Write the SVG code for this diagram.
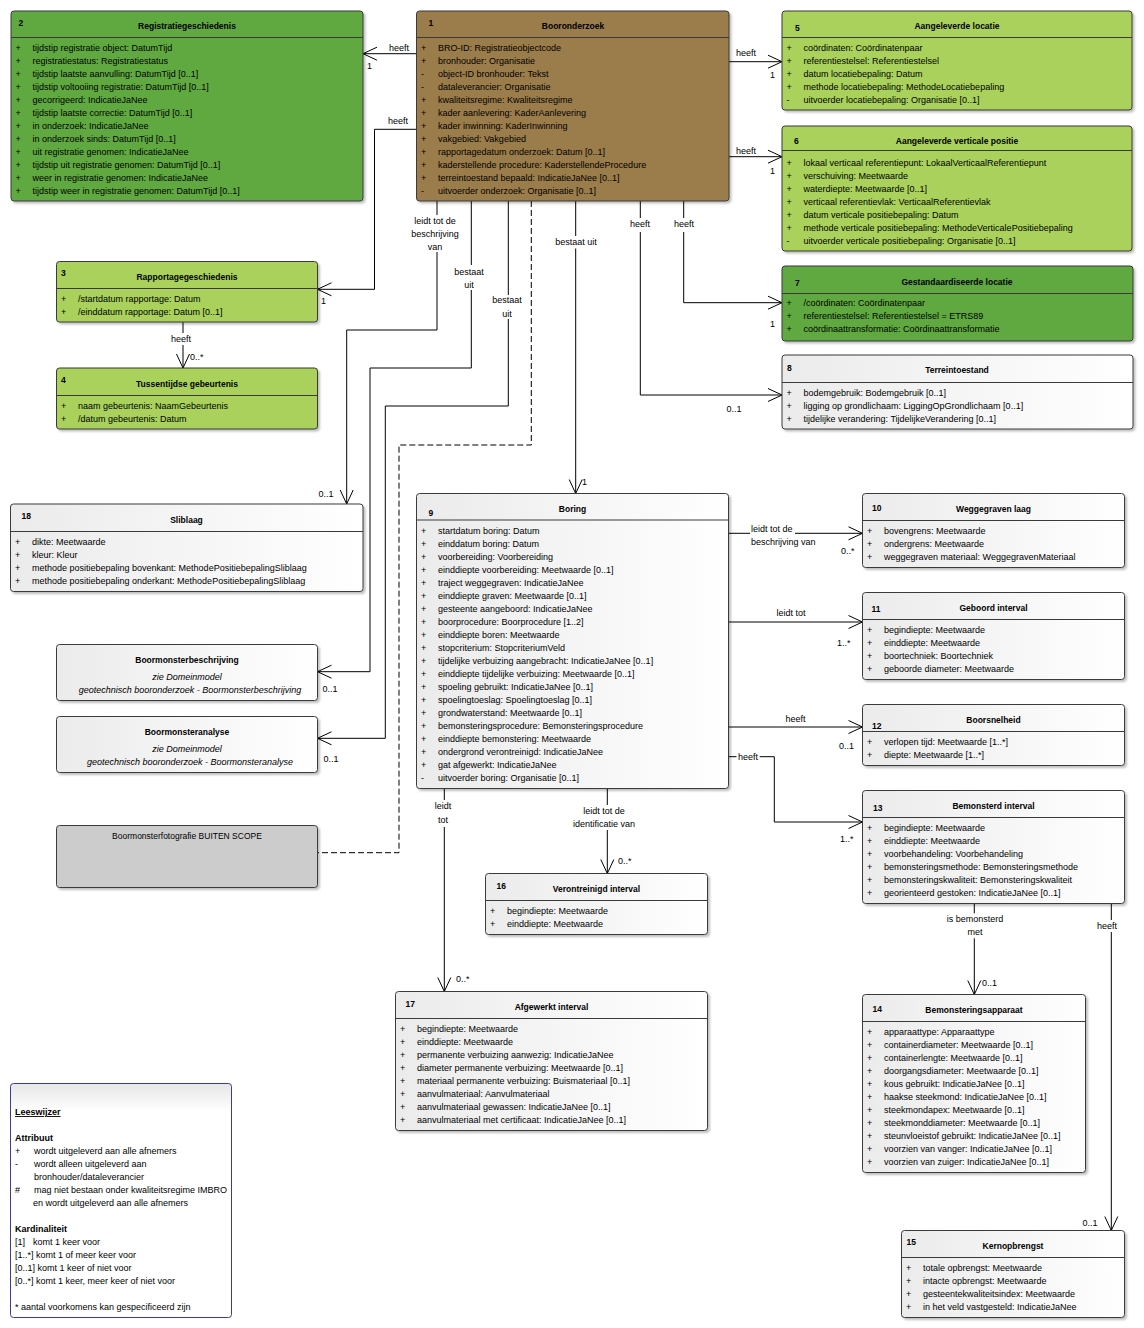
<svg xmlns="http://www.w3.org/2000/svg" width="1144" height="1328" viewBox="0 0 1144 1328">
<defs>
<style>
.bx{stroke:#3a3a3a;stroke-width:1;filter:url(#sh)}
.sep{stroke:#3a3a3a;stroke-width:1}
text{font-family:"Liberation Sans",Arial,sans-serif;font-size:9px;fill:#000}
.ti{font-weight:bold;font-size:8.5px;text-anchor:middle}
.nr{font-weight:bold;font-size:8.5px}
.it{font-style:italic;text-anchor:middle}
.c{text-anchor:middle}
.ln{fill:none;stroke:#000;stroke-width:1}
.ar{marker-end:url(#ar)}
.dash{stroke-dasharray:6,3}
.dg{fill:#61a83f}
.lg{fill:#a9d15b}
.br{fill:#9b7b4c}
.wh{fill:url(#wg)}
.gr{fill:#cccccc}
</style>
<linearGradient id="wg" x1="0" y1="0" x2="1" y2="0"><stop offset="0" stop-color="#ebebeb"/><stop offset="1" stop-color="#ffffff"/></linearGradient>
<linearGradient id="lgd" x1="0" y1="0" x2="0" y2="1"><stop offset="0" stop-color="#e6e6e6"/><stop offset="0.12" stop-color="#ffffff"/><stop offset="1" stop-color="#ffffff"/></linearGradient>
<filter id="sh" x="-5%" y="-5%" width="110%" height="115%"><feDropShadow dx="2" dy="2" stdDeviation="1" flood-color="#000" flood-opacity="0.25"/></filter>
<marker id="ar" markerUnits="userSpaceOnUse" markerWidth="18" markerHeight="18" viewBox="-16 -9 18 18" refX="0" refY="0" orient="auto"><path d="M-14,-6.5 L0,0 L-14,6.5" fill="none" stroke="#000" stroke-width="1"/></marker>
</defs>
<rect width="1144" height="1328" fill="#ffffff"/>

<g id="connectors">
<path class="ln ar" d="M416.5,53.7 H363"/>
<path class="ln ar" d="M416.5,129.3 H374.5 V289.3 H317.5"/>
<path class="ln ar" d="M729,61.7 H782"/>
<path class="ln ar" d="M729,156.7 H782"/>
<path class="ln ar" d="M683.7,201 V218 M683.7,232 V302.7 H782"/>
<path class="ln ar" d="M640.3,201 V218 M640.3,232 V395 H782"/>
<path class="ln ar" d="M437,201 V215 M437,252 V330 H346.7 V504"/>
<path class="ln ar" d="M471.3,201 V265 M471.3,290 V368 H370 V671.7 H317.5"/>
<path class="ln ar" d="M508.3,201 V295 M508.3,319 V406 H385.3 V738.3 H317.5"/>
<path class="ln dash" d="M531.3,201 V445 H399 V852.7 H317.5"/>
<path class="ln ar" d="M575.7,201 V236 M575.7,248.5 V493.5"/>
<path class="ln ar" d="M183,322 V333 M183,345 V368"/>
<path class="ln ar" d="M728.5,533.3 H750 M795,533.3 H862.5"/>
<path class="ln ar" d="M728.5,622 H862.5"/>
<path class="ln ar" d="M728.5,727 H862.5"/>
<path class="ln ar" d="M728.5,756.7 H736.5 M759.7,756.7 H774.3 V822 H862.5"/>
<path class="ln ar" d="M607.3,788.5 V805 M607.3,830 V873.5"/>
<path class="ln ar" d="M444.3,788.5 V800 M444.3,827 V991.5"/>
<path class="ln ar" d="M974.3,903.5 V913.3 M974.3,938.3 V994.5"/>
<path class="ln ar" d="M1111.3,903.5 V920 M1111.3,932 V1230.5"/>
<text class="c" x="399" y="51">heeft</text>
<text x="367" y="69">1</text>
<text class="c" x="398" y="124">heeft</text>
<text x="321" y="304">1</text>
<text class="c" x="746" y="56">heeft</text>
<text x="770" y="78">1</text>
<text class="c" x="746" y="154">heeft</text>
<text x="770" y="174">1</text>
<text class="c" x="684" y="227">heeft</text>
<text x="770" y="327">1</text>
<text class="c" x="640" y="227">heeft</text>
<text class="c" x="734" y="412">0..1</text>
<text class="c" x="435" y="224">leidt tot de</text>
<text class="c" x="435" y="237">beschrijving</text>
<text class="c" x="435" y="250">van</text>
<text class="c" x="469" y="275">bestaat</text>
<text class="c" x="469" y="288">uit</text>
<text class="c" x="507" y="303">bestaat</text>
<text class="c" x="507" y="316.5">uit</text>
<text class="c" x="576" y="244.7">bestaat uit</text>
<text x="582" y="485">1</text>
<text class="c" x="326" y="497">0..1</text>
<text class="c" x="330" y="692">0..1</text>
<text class="c" x="331" y="762">0..1</text>
<text class="c" x="181" y="342">heeft</text>
<text x="190" y="360">0..*</text>
<text x="751" y="531.7">leidt tot de</text>
<text x="751" y="544.7">beschrijving van</text>
<text x="841" y="554">0..*</text>
<text class="c" x="791" y="615.7">leidt tot</text>
<text x="837" y="645.7">1..*</text>
<text class="c" x="795.5" y="721.7">heeft</text>
<text x="839" y="749">0..1</text>
<text x="738" y="760">heeft</text>
<text x="840" y="842.3">1..*</text>
<text class="c" x="443" y="809.3">leidt</text>
<text class="c" x="443" y="822.7">tot</text>
<text x="456" y="982">0..*</text>
<text class="c" x="604" y="813.7">leidt tot de</text>
<text class="c" x="604" y="826.7">identificatie van</text>
<text x="618" y="864">0..*</text>
<text class="c" x="975" y="921.7">is bemonsterd</text>
<text class="c" x="975" y="935">met</text>
<text x="982" y="986">0..1</text>
<text class="c" x="1107" y="928.7">heeft</text>
<text class="c" x="1090" y="1225.7">0..1</text>
</g>

<g id="n2">
<rect class="bx dg" x="11" y="11" width="352" height="190" rx="3"/>
<line class="sep" x1="11" y1="37.5" x2="363" y2="37.5"/>
<text class="nr" x="18.5" y="25.7">2</text>
<text class="ti" x="187" y="29">Registratiegeschiedenis</text>
<text y="51"><tspan x="15.5">+</tspan><tspan x="32.5">tijdstip registratie object: DatumTijd</tspan></text>
<text y="64"><tspan x="15.5">+</tspan><tspan x="32.5">registratiestatus: Registratiestatus</tspan></text>
<text y="77"><tspan x="15.5">+</tspan><tspan x="32.5">tijdstip laatste aanvulling: DatumTijd [0..1]</tspan></text>
<text y="90"><tspan x="15.5">+</tspan><tspan x="32.5">tijdstip voltooiing registratie: DatumTijd [0..1]</tspan></text>
<text y="103"><tspan x="15.5">+</tspan><tspan x="32.5">gecorrigeerd: IndicatieJaNee</tspan></text>
<text y="116"><tspan x="15.5">+</tspan><tspan x="32.5">tijdstip laatste correctie: DatumTijd [0..1]</tspan></text>
<text y="129"><tspan x="15.5">+</tspan><tspan x="32.5">in onderzoek: IndicatieJaNee</tspan></text>
<text y="142"><tspan x="15.5">+</tspan><tspan x="32.5">in onderzoek sinds: DatumTijd [0..1]</tspan></text>
<text y="155"><tspan x="15.5">+</tspan><tspan x="32.5">uit registratie genomen: IndicatieJaNee</tspan></text>
<text y="168"><tspan x="15.5">+</tspan><tspan x="32.5">tijdstip uit registratie genomen: DatumTijd [0..1]</tspan></text>
<text y="181"><tspan x="15.5">+</tspan><tspan x="32.5">weer in registratie genomen: IndicatieJaNee</tspan></text>
<text y="194"><tspan x="15.5">+</tspan><tspan x="32.5">tijdstip weer in registratie genomen: DatumTijd [0..1]</tspan></text>
</g>

<g id="n1">
<rect class="bx br" x="416.5" y="11" width="312.5" height="190" rx="3"/>
<line class="sep" x1="416.5" y1="37.5" x2="729" y2="37.5"/>
<text class="nr" x="428.5" y="25.7">1</text>
<text class="ti" x="573" y="29">Booronderzoek</text>
<text y="51"><tspan x="421">+</tspan><tspan x="438">BRO-ID: Registratieobjectcode</tspan></text>
<text y="64"><tspan x="421">+</tspan><tspan x="438">bronhouder: Organisatie</tspan></text>
<text y="77"><tspan x="421">-</tspan><tspan x="438">object-ID bronhouder: Tekst</tspan></text>
<text y="90"><tspan x="421">-</tspan><tspan x="438">dataleverancier: Organisatie</tspan></text>
<text y="103"><tspan x="421">+</tspan><tspan x="438">kwaliteitsregime: Kwaliteitsregime</tspan></text>
<text y="116"><tspan x="421">+</tspan><tspan x="438">kader aanlevering: KaderAanlevering</tspan></text>
<text y="129"><tspan x="421">+</tspan><tspan x="438">kader inwinning: KaderInwinning</tspan></text>
<text y="142"><tspan x="421">+</tspan><tspan x="438">vakgebied: Vakgebied</tspan></text>
<text y="155"><tspan x="421">+</tspan><tspan x="438">rapportagedatum onderzoek: Datum [0..1]</tspan></text>
<text y="168"><tspan x="421">+</tspan><tspan x="438">kaderstellende procedure: KaderstellendeProcedure</tspan></text>
<text y="181"><tspan x="421">+</tspan><tspan x="438">terreintoestand bepaald: IndicatieJaNee [0..1]</tspan></text>
<text y="194"><tspan x="421">-</tspan><tspan x="438">uitvoerder onderzoek: Organisatie [0..1]</tspan></text>
</g>

<g id="n5">
<rect class="bx lg" x="782" y="11" width="350" height="99" rx="3"/>
<line class="sep" x1="782" y1="37.5" x2="1132" y2="37.5"/>
<text class="nr" x="795" y="30.5">5</text>
<text class="ti" x="957" y="29">Aangeleverde locatie</text>
<text y="51"><tspan x="786.5">+</tspan><tspan x="803.5">coördinaten: Coördinatenpaar</tspan></text>
<text y="64"><tspan x="786.5">+</tspan><tspan x="803.5">referentiestelsel: Referentiestelsel</tspan></text>
<text y="77"><tspan x="786.5">+</tspan><tspan x="803.5">datum locatiebepaling: Datum</tspan></text>
<text y="90"><tspan x="786.5">+</tspan><tspan x="803.5">methode locatiebepaling: MethodeLocatiebepaling</tspan></text>
<text y="103"><tspan x="786.5">-</tspan><tspan x="803.5">uitvoerder locatiebepaling: Organisatie [0..1]</tspan></text>
</g>

<g id="n6">
<rect class="bx lg" x="782" y="126" width="350" height="125" rx="3"/>
<line class="sep" x1="782" y1="150.5" x2="1132" y2="150.5"/>
<text class="nr" x="794" y="144">6</text>
<text class="ti" x="957" y="144">Aangeleverde verticale positie</text>
<text y="166"><tspan x="786.5">+</tspan><tspan x="803.5">lokaal verticaal referentiepunt: LokaalVerticaalReferentiepunt</tspan></text>
<text y="179"><tspan x="786.5">+</tspan><tspan x="803.5">verschuiving: Meetwaarde</tspan></text>
<text y="192"><tspan x="786.5">+</tspan><tspan x="803.5">waterdiepte: Meetwaarde [0..1]</tspan></text>
<text y="205"><tspan x="786.5">+</tspan><tspan x="803.5">verticaal referentievlak: VerticaalReferentievlak</tspan></text>
<text y="218"><tspan x="786.5">+</tspan><tspan x="803.5">datum verticale positiebepaling: Datum</tspan></text>
<text y="231"><tspan x="786.5">+</tspan><tspan x="803.5">methode verticale positiebepaling: MethodeVerticalePositiebepaling</tspan></text>
<text y="244"><tspan x="786.5">-</tspan><tspan x="803.5">uitvoerder verticale positiebepaling: Organisatie [0..1]</tspan></text>
</g>

<g id="n7">
<rect class="bx dg" x="782" y="266" width="351" height="75" rx="3"/>
<line class="sep" x1="782" y1="293.5" x2="1133" y2="293.5"/>
<text class="nr" x="795" y="286">7</text>
<text class="ti" x="957" y="285">Gestandaardiseerde locatie</text>
<text y="306"><tspan x="786.5">+</tspan><tspan x="803.5">/coördinaten: Coördinatenpaar</tspan></text>
<text y="319"><tspan x="786.5">+</tspan><tspan x="803.5">referentiestelsel: Referentiestelsel = ETRS89</tspan></text>
<text y="332"><tspan x="786.5">+</tspan><tspan x="803.5">coördinaattransformatie: Coördinaattransformatie</tspan></text>
</g>

<g id="n8">
<rect class="bx wh" x="782" y="355" width="351" height="74" rx="3"/>
<line class="sep" x1="782" y1="382.5" x2="1133" y2="382.5"/>
<text class="nr" x="787" y="371">8</text>
<text class="ti" x="957" y="373">Terreintoestand</text>
<text y="396"><tspan x="786.5">+</tspan><tspan x="803.5">bodemgebruik: Bodemgebruik [0..1]</tspan></text>
<text y="409"><tspan x="786.5">+</tspan><tspan x="803.5">ligging op grondlichaam: LiggingOpGrondlichaam [0..1]</tspan></text>
<text y="422"><tspan x="786.5">+</tspan><tspan x="803.5">tijdelijke verandering: TijdelijkeVerandering [0..1]</tspan></text>
</g>

<g id="n3">
<rect class="bx lg" x="56.5" y="261.5" width="261" height="60.5" rx="3"/>
<line class="sep" x1="56.5" y1="288.5" x2="317.5" y2="288.5"/>
<text class="nr" x="61" y="275.7">3</text>
<text class="ti" x="187" y="279.7">Rapportagegeschiedenis</text>
<text y="302"><tspan x="61">+</tspan><tspan x="78">/startdatum rapportage: Datum</tspan></text>
<text y="315"><tspan x="61">+</tspan><tspan x="78">/einddatum rapportage: Datum [0..1]</tspan></text>
</g>

<g id="n4">
<rect class="bx lg" x="56.5" y="368" width="261" height="61" rx="3"/>
<line class="sep" x1="56.5" y1="395.5" x2="317.5" y2="395.5"/>
<text class="nr" x="61" y="383">4</text>
<text class="ti" x="187" y="387">Tussentijdse gebeurtenis</text>
<text y="409"><tspan x="61">+</tspan><tspan x="78">naam gebeurtenis: NaamGebeurtenis</tspan></text>
<text y="422"><tspan x="61">+</tspan><tspan x="78">/datum gebeurtenis: Datum</tspan></text>
</g>

<g id="n18">
<rect class="bx wh" x="10.5" y="504" width="352.5" height="87.5" rx="3"/>
<line class="sep" x1="10.5" y1="531.5" x2="363" y2="531.5"/>
<text class="nr" x="21.5" y="519">18</text>
<text class="ti" x="186.5" y="523">Sliblaag</text>
<text y="545"><tspan x="15">+</tspan><tspan x="32">dikte: Meetwaarde</tspan></text>
<text y="558"><tspan x="15">+</tspan><tspan x="32">kleur: Kleur</tspan></text>
<text y="571"><tspan x="15">+</tspan><tspan x="32">methode positiebepaling bovenkant: MethodePositiebepalingSliblaag</tspan></text>
<text y="584"><tspan x="15">+</tspan><tspan x="32">methode positiebepaling onderkant: MethodePositiebepalingSliblaag</tspan></text>
</g>

<g id="n9">
<rect class="bx wh" x="416.5" y="493.5" width="312" height="295" rx="3"/>
<line class="sep" x1="416.5" y1="520" x2="728.5" y2="520"/>
<text class="nr" x="428.5" y="515.5">9</text>
<text class="ti" x="572.5" y="512">Boring</text>
<text y="534"><tspan x="421">+</tspan><tspan x="438">startdatum boring: Datum</tspan></text>
<text y="547"><tspan x="421">+</tspan><tspan x="438">einddatum boring: Datum</tspan></text>
<text y="560"><tspan x="421">+</tspan><tspan x="438">voorbereiding: Voorbereiding</tspan></text>
<text y="573"><tspan x="421">+</tspan><tspan x="438">einddiepte voorbereiding: Meetwaarde [0..1]</tspan></text>
<text y="586"><tspan x="421">+</tspan><tspan x="438">traject weggegraven: IndicatieJaNee</tspan></text>
<text y="599"><tspan x="421">+</tspan><tspan x="438">einddiepte graven: Meetwaarde [0..1]</tspan></text>
<text y="612"><tspan x="421">+</tspan><tspan x="438">gesteente aangeboord: IndicatieJaNee</tspan></text>
<text y="625"><tspan x="421">+</tspan><tspan x="438">boorprocedure: Boorprocedure [1..2]</tspan></text>
<text y="638"><tspan x="421">+</tspan><tspan x="438">einddiepte boren: Meetwaarde</tspan></text>
<text y="651"><tspan x="421">+</tspan><tspan x="438">stopcriterium: StopcriteriumVeld</tspan></text>
<text y="664"><tspan x="421">+</tspan><tspan x="438">tijdelijke verbuizing aangebracht: IndicatieJaNee [0..1]</tspan></text>
<text y="677"><tspan x="421">+</tspan><tspan x="438">einddiepte tijdelijke verbuizing: Meetwaarde [0..1]</tspan></text>
<text y="690"><tspan x="421">+</tspan><tspan x="438">spoeling gebruikt: IndicatieJaNee [0..1]</tspan></text>
<text y="703"><tspan x="421">+</tspan><tspan x="438">spoelingtoeslag: Spoelingtoeslag [0..1]</tspan></text>
<text y="716"><tspan x="421">+</tspan><tspan x="438">grondwaterstand: Meetwaarde [0..1]</tspan></text>
<text y="729"><tspan x="421">+</tspan><tspan x="438">bemonsteringsprocedure: Bemonsteringsprocedure</tspan></text>
<text y="742"><tspan x="421">+</tspan><tspan x="438">einddiepte bemonstering: Meetwaarde</tspan></text>
<text y="755"><tspan x="421">+</tspan><tspan x="438">ondergrond verontreinigd: IndicatieJaNee</tspan></text>
<text y="768"><tspan x="421">+</tspan><tspan x="438">gat afgewerkt: IndicatieJaNee</tspan></text>
<text y="781"><tspan x="421">-</tspan><tspan x="438">uitvoerder boring: Organisatie [0..1]</tspan></text>
</g>

<g id="n10">
<rect class="bx wh" x="862.5" y="493.5" width="262" height="74" rx="3"/>
<line class="sep" x1="862.5" y1="520.5" x2="1124.5" y2="520.5"/>
<text class="nr" x="872" y="511">10</text>
<text class="ti" x="993.5" y="512">Weggegraven laag</text>
<text y="534"><tspan x="867">+</tspan><tspan x="884">bovengrens: Meetwaarde</tspan></text>
<text y="547"><tspan x="867">+</tspan><tspan x="884">ondergrens: Meetwaarde</tspan></text>
<text y="560"><tspan x="867">+</tspan><tspan x="884">weggegraven materiaal: WeggegravenMateriaal</tspan></text>
</g>

<g id="n11">
<rect class="bx wh" x="862.5" y="592.5" width="262" height="87" rx="3"/>
<line class="sep" x1="862.5" y1="619.5" x2="1124.5" y2="619.5"/>
<text class="nr" x="871.5" y="612">11</text>
<text class="ti" x="993.5" y="611">Geboord interval</text>
<text y="633"><tspan x="867">+</tspan><tspan x="884">begindiepte: Meetwaarde</tspan></text>
<text y="646"><tspan x="867">+</tspan><tspan x="884">einddiepte: Meetwaarde</tspan></text>
<text y="659"><tspan x="867">+</tspan><tspan x="884">boortechniek: Boortechniek</tspan></text>
<text y="672"><tspan x="867">+</tspan><tspan x="884">geboorde diameter: Meetwaarde</tspan></text>
</g>

<g id="n12">
<rect class="bx wh" x="862.5" y="704.5" width="262" height="61" rx="3"/>
<line class="sep" x1="862.5" y1="731.5" x2="1124.5" y2="731.5"/>
<text class="nr" x="872" y="729">12</text>
<text class="ti" x="993.5" y="722.7">Boorsnelheid</text>
<text y="745"><tspan x="867">+</tspan><tspan x="884">verlopen tijd: Meetwaarde [1..*]</tspan></text>
<text y="758"><tspan x="867">+</tspan><tspan x="884">diepte: Meetwaarde [1..*]</tspan></text>
</g>

<g id="n13">
<rect class="bx wh" x="862.5" y="790.5" width="262" height="113" rx="3"/>
<line class="sep" x1="862.5" y1="817.5" x2="1124.5" y2="817.5"/>
<text class="nr" x="873" y="811">13</text>
<text class="ti" x="993.5" y="808.7">Bemonsterd interval</text>
<text y="831"><tspan x="867">+</tspan><tspan x="884">begindiepte: Meetwaarde</tspan></text>
<text y="844"><tspan x="867">+</tspan><tspan x="884">einddiepte: Meetwaarde</tspan></text>
<text y="857"><tspan x="867">+</tspan><tspan x="884">voorbehandeling: Voorbehandeling</tspan></text>
<text y="870"><tspan x="867">+</tspan><tspan x="884">bemonsteringsmethode: Bemonsteringsmethode</tspan></text>
<text y="883"><tspan x="867">+</tspan><tspan x="884">bemonsteringskwaliteit: Bemonsteringskwaliteit</tspan></text>
<text y="896"><tspan x="867">+</tspan><tspan x="884">georienteerd gestoken: IndicatieJaNee [0..1]</tspan></text>
</g>

<g id="n14">
<rect class="bx wh" x="862.5" y="994.5" width="223" height="178" rx="3"/>
<line class="sep" x1="862.5" y1="1021.5" x2="1085.5" y2="1021.5"/>
<text class="nr" x="872.5" y="1011.5">14</text>
<text class="ti" x="974" y="1013">Bemonsteringsapparaat</text>
<text y="1035"><tspan x="867">+</tspan><tspan x="884">apparaattype: Apparaattype</tspan></text>
<text y="1048"><tspan x="867">+</tspan><tspan x="884">containerdiameter: Meetwaarde [0..1]</tspan></text>
<text y="1061"><tspan x="867">+</tspan><tspan x="884">containerlengte: Meetwaarde [0..1]</tspan></text>
<text y="1074"><tspan x="867">+</tspan><tspan x="884">doorgangsdiameter: Meetwaarde [0..1]</tspan></text>
<text y="1087"><tspan x="867">+</tspan><tspan x="884">kous gebruikt: IndicatieJaNee [0..1]</tspan></text>
<text y="1100"><tspan x="867">+</tspan><tspan x="884">haakse steekmond: IndicatieJaNee [0..1]</tspan></text>
<text y="1113"><tspan x="867">+</tspan><tspan x="884">steekmondapex: Meetwaarde [0..1]</tspan></text>
<text y="1126"><tspan x="867">+</tspan><tspan x="884">steekmonddiameter: Meetwaarde [0..1]</tspan></text>
<text y="1139"><tspan x="867">+</tspan><tspan x="884">steunvloeistof gebruikt: IndicatieJaNee [0..1]</tspan></text>
<text y="1152"><tspan x="867">+</tspan><tspan x="884">voorzien van vanger: IndicatieJaNee [0..1]</tspan></text>
<text y="1165"><tspan x="867">+</tspan><tspan x="884">voorzien van zuiger: IndicatieJaNee [0..1]</tspan></text>
</g>

<g id="n15">
<rect class="bx wh" x="901.5" y="1230.5" width="223" height="87" rx="3"/>
<line class="sep" x1="901.5" y1="1257.5" x2="1124.5" y2="1257.5"/>
<text class="nr" x="906.5" y="1245">15</text>
<text class="ti" x="1013" y="1249">Kernopbrengst</text>
<text y="1271"><tspan x="906">+</tspan><tspan x="923">totale opbrengst: Meetwaarde</tspan></text>
<text y="1284"><tspan x="906">+</tspan><tspan x="923">intacte opbrengst: Meetwaarde</tspan></text>
<text y="1297"><tspan x="906">+</tspan><tspan x="923">gesteentekwaliteitsindex: Meetwaarde</tspan></text>
<text y="1310"><tspan x="906">+</tspan><tspan x="923">in het veld vastgesteld: IndicatieJaNee</tspan></text>
</g>

<g id="n16">
<rect class="bx wh" x="485.5" y="873.5" width="222" height="61" rx="3"/>
<line class="sep" x1="485.5" y1="900.5" x2="707.5" y2="900.5"/>
<text class="nr" x="496.5" y="889">16</text>
<text class="ti" x="596.5" y="891.7">Verontreinigd interval</text>
<text y="914"><tspan x="490">+</tspan><tspan x="507">begindiepte: Meetwaarde</tspan></text>
<text y="927"><tspan x="490">+</tspan><tspan x="507">einddiepte: Meetwaarde</tspan></text>
</g>

<g id="n17">
<rect class="bx wh" x="395.5" y="991.5" width="312" height="139" rx="3"/>
<line class="sep" x1="395.5" y1="1018.5" x2="707.5" y2="1018.5"/>
<text class="nr" x="405.5" y="1007">17</text>
<text class="ti" x="551.5" y="1009.7">Afgewerkt interval</text>
<text y="1032"><tspan x="400">+</tspan><tspan x="417">begindiepte: Meetwaarde</tspan></text>
<text y="1045"><tspan x="400">+</tspan><tspan x="417">einddiepte: Meetwaarde</tspan></text>
<text y="1058"><tspan x="400">+</tspan><tspan x="417">permanente verbuizing aanwezig: IndicatieJaNee</tspan></text>
<text y="1071"><tspan x="400">+</tspan><tspan x="417">diameter permanente verbuizing: Meetwaarde [0..1]</tspan></text>
<text y="1084"><tspan x="400">+</tspan><tspan x="417">materiaal permanente verbuizing: Buismateriaal [0..1]</tspan></text>
<text y="1097"><tspan x="400">+</tspan><tspan x="417">aanvulmateriaal: Aanvulmateriaal</tspan></text>
<text y="1110"><tspan x="400">+</tspan><tspan x="417">aanvulmateriaal gewassen: IndicatieJaNee [0..1]</tspan></text>
<text y="1123"><tspan x="400">+</tspan><tspan x="417">aanvulmateriaal met certificaat: IndicatieJaNee [0..1]</tspan></text>
</g>

<g id="nBoormonsterbeschrijving">
<rect class="bx wh" x="56.5" y="644.5" width="261" height="56" rx="3"/>
<text class="ti" x="187" y="663">Boormonsterbeschrijving</text>
<text class="it" x="187" y="680">zie Domeinmodel</text>
<text class="it" x="190" y="693">geotechnisch booronderzoek - Boormonsterbeschrijving</text>
</g>

<g id="nBoormonsteranalyse">
<rect class="bx wh" x="56.5" y="716.5" width="261" height="56" rx="3"/>
<text class="ti" x="187" y="735">Boormonsteranalyse</text>
<text class="it" x="187" y="752">zie Domeinmodel</text>
<text class="it" x="190" y="765">geotechnisch booronderzoek - Boormonsteranalyse</text>
</g>

<g id="nBoormonsterfotografie">
<rect class="bx gr" x="56.5" y="825.5" width="261" height="62" rx="3"/>
<text class="c" x="187" y="839" style="font-size:8.5px">Boormonsterfotografie BUITEN SCOPE</text>
</g>

<g id="legend">
<rect x="10.5" y="1083.5" width="221" height="234" rx="3" fill="url(#lgd)" stroke="#3b3b9a" stroke-width="1"/>
<text x="15" y="1115" style="font-weight:bold;text-decoration:underline">Leeswijzer</text>
<text x="15" y="1141" style="font-weight:bold">Attribuut</text>
<text y="1154"><tspan x="15">+</tspan><tspan x="34">wordt uitgeleverd aan alle afnemers</tspan></text>
<text y="1167"><tspan x="15">-</tspan><tspan x="34">wordt alleen uitgeleverd aan</tspan></text>
<text x="34" y="1180">bronhouder/dataleverancier</text>
<text y="1193"><tspan x="15">#</tspan><tspan x="34">mag niet bestaan onder kwaliteitsregime IMBRO</tspan></text>
<text x="33" y="1206">en wordt uitgeleverd aan alle afnemers</text>
<text x="15" y="1232" style="font-weight:bold">Kardinaliteit</text>
<text y="1245"><tspan x="15">[1]</tspan><tspan x="33">komt 1 keer voor</tspan></text>
<text x="15" y="1258">[1..*] komt 1 of meer keer voor</text>
<text x="15" y="1271">[0..1] komt 1 keer of niet voor</text>
<text x="15" y="1284">[0..*] komt 1 keer, meer keer of niet voor</text>
<text x="15" y="1310">* aantal voorkomens kan gespecificeerd zijn</text>
</g>
</svg>
